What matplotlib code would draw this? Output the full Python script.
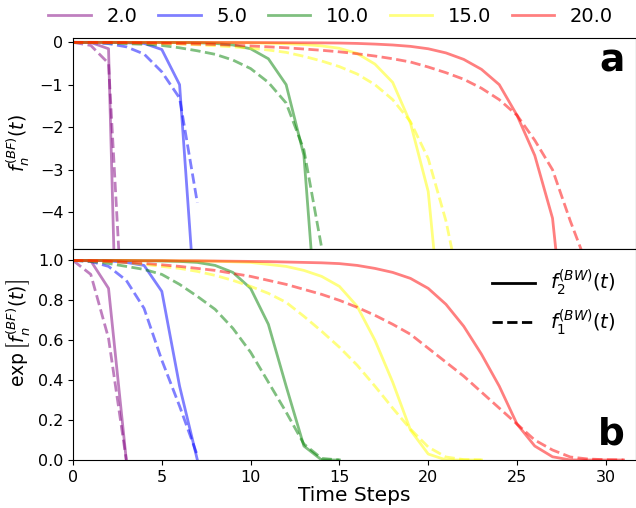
import numpy as np
import matplotlib
matplotlib.use("Agg")
import matplotlib.pyplot as plt
from matplotlib.lines import Line2D

# ---- data (exp of f_n^(BF)(t)) ----
n_values = [2.0, 5.0, 10.0, 15.0, 20.0]
colors = ["purple", "blue", "green", "yellow", "red"]

# solid: f_2^(BW)(t), dashed: f_1^(BW)(t); index = time step
f2_n2 = [1.0, 0.998, 0.86, 1.2e-7]
f1_n2 = [1.0, 0.93, 0.61, 3e-4]

f2_n5 = [1.0, 1.0, 0.998, 0.99, 0.975, 0.845, 0.37, 1e-3]
f1_n5 = [1.0, 0.995, 0.97, 0.90, 0.76, 0.50, 0.27, 0.023]

f2_n10 = [1.0, 1.0, 1.0, 0.999, 0.998, 0.997, 0.995, 0.99, 0.975, 0.94,
          0.86, 0.68, 0.37, 0.07, 3e-4, 1e-6]
f1_n10 = [1.0, 0.995, 0.985, 0.97, 0.955, 0.93, 0.88, 0.82, 0.755, 0.66,
          0.54, 0.39, 0.24, 0.08, 0.008, 1e-4]

f2_n15 = [1.0, 1.0, 1.0, 1.0, 0.999, 0.999, 0.998, 0.997, 0.996, 0.993,
          0.99, 0.98, 0.97, 0.95, 0.92, 0.87, 0.77, 0.60, 0.39, 0.15,
          0.03, 4e-4, 1e-6, 1e-8]
f1_n15 = [1.0, 0.998, 0.995, 0.99, 0.98, 0.97, 0.96, 0.945, 0.925, 0.90,
          0.87, 0.835, 0.79, 0.72, 0.645, 0.565, 0.475, 0.37, 0.26, 0.155,
          0.065, 0.015, 0.002, 1e-4]

f2_n20 = [1.0, 1.0, 1.0, 0.9995, 0.999, 0.999, 0.998, 0.998, 0.997, 0.996,
          0.995, 0.994, 0.992, 0.99, 0.988, 0.984, 0.975, 0.96, 0.94, 0.91,
          0.86, 0.78, 0.67, 0.53, 0.37, 0.18, 0.07, 0.016, 3e-4, 1e-5,
          1e-6, 1e-7]
f1_n20 = [1.0, 0.998, 0.995, 0.99, 0.985, 0.978, 0.97, 0.96, 0.95, 0.935,
          0.92, 0.90, 0.88, 0.855, 0.83, 0.80, 0.765, 0.725, 0.68, 0.63,
          0.56, 0.49, 0.42, 0.34, 0.26, 0.18, 0.10, 0.05, 0.015, 0.005,
          0.0015, 3e-4]

solid_series = [f2_n2, f2_n5, f2_n10, f2_n15, f2_n20]
dashed_series = [f1_n2, f1_n5, f1_n10, f1_n15, f1_n20]

# ---- figure ----
fig = plt.figure(figsize=(6.36, 5.08), dpi=100)
gs = fig.add_gridspec(2, 1, left=0.1148, right=1.0, top=0.925, bottom=0.0945, hspace=0)
ax1 = fig.add_subplot(gs[0])
ax2 = fig.add_subplot(gs[1], sharex=ax1)

lw = 2.0
alpha = 0.5
handles = []
for n, c, s, d in zip(n_values, colors, solid_series, dashed_series):
    s = np.asarray(s, dtype=float)
    d = np.asarray(d, dtype=float)
    ts = np.arange(len(s))
    td = np.arange(len(d))
    h, = ax1.plot(ts, np.log(s), color=c, alpha=alpha, lw=lw, label=f"{n}")
    ax1.plot(td, np.log(d), color=c, alpha=alpha, lw=lw, ls="--")
    ax2.plot(ts, s, color=c, alpha=alpha, lw=lw)
    ax2.plot(td, d, color=c, alpha=alpha, lw=lw, ls="--")
    handles.append(h)

ax1.set_ylim(-4.86, 0.1)
ax2.set_ylim(0, 1.057)
ax2.set_xlim(0, 31.7)
ax1.set_yticks([0, -1, -2, -3, -4])
ax2.set_yticks([0.0, 0.2, 0.4, 0.6, 0.8, 1.0])
ax2.set_xticks([0, 5, 10, 15, 20, 25, 30])

ax1.tick_params(axis="x", bottom=False, labelbottom=False)
for ax in (ax1, ax2):
    ax.tick_params(axis="both", labelsize=11.5)

ax1.set_ylabel(r"$f_n^{(BF)}(t)$", fontsize=13.5)
ax2.set_ylabel(r"$\exp\left[f_n^{(BF)}(t)\right]$", fontsize=13.5)
ax2.set_xlabel("Time Steps", fontsize=14.5, labelpad=1)
ax1.yaxis.set_label_coords(-0.072, 0.5)
ax2.yaxis.set_label_coords(-0.072, 0.6)

ax1.text(0.98, 0.84, "a", transform=ax1.transAxes, ha="right", va="baseline",
         fontsize=27, fontweight="bold")
ax2.text(0.98, 0.075, "b", transform=ax2.transAxes, ha="right", va="baseline",
         fontsize=27, fontweight="bold")

fig.legend(handles=handles, labels=[f"{n}" for n in n_values], loc="upper center",
           bbox_to_anchor=(0.52, 1.021), ncol=5, frameon=False, fontsize=14,
           handlelength=2.2, columnspacing=1.05)

style_handles = [Line2D([], [], color="black", lw=lw, ls="-"),
                 Line2D([], [], color="black", lw=lw, ls="--")]
ax2.legend(style_handles, [r"$f_2^{(BW)}(t)$", r"$f_1^{(BW)}(t)$"],
           loc="upper right", frameon=False, fontsize=14, handlelength=2.2,
           bbox_to_anchor=(0.995, 0.995))

fig.savefig("out.png", dpi=100)
